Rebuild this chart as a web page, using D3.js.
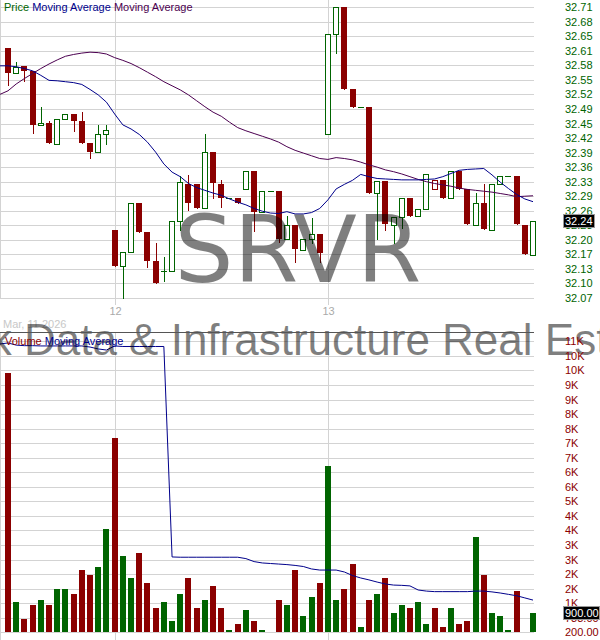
<!DOCTYPE html>
<html>
<head>
<meta charset="utf-8">
<script src="https://cdn.jsdelivr.net/npm/d3@7"></script>
<style>
  body { margin: 0; background: #fff; }
  svg { display: block; }
  text { font-family: "Liberation Sans", Arial, sans-serif; }
</style>
</head>
<body>
<svg id="chart" width="600" height="640"></svg>
<script>
// SRVR, 15-minute bars: Mar 11 (afternoon), Mar 12, Mar 13
const opens = [32.620,32.565,32.581,32.570,32.451,32.455,32.410,32.465,32.474,32.460,32.412,32.391,32.430,32.220,32.140,32.172,32.278,32.215,32.151,32.129,32.129,32.239,32.320,32.320,32.267,32.391,32.320,32.289,32.289,32.309,32.350,32.259,32.305,32.305,32.199,32.230,32.176,32.199,32.210,32.431,32.651,32.711,32.530,32.491,32.491,32.300,32.328,32.231,32.249,32.289,32.250,32.265,32.309,32.330,32.289,32.350,32.309,32.231,32.278,32.220,32.320,32.339,32.339,32.231,32.165];
const highs = [32.620,32.589,32.581,32.570,32.490,32.460,32.465,32.474,32.474,32.479,32.412,32.451,32.451,32.220,32.172,32.278,32.278,32.215,32.192,32.160,32.239,32.338,32.341,32.320,32.431,32.391,32.330,32.289,32.289,32.350,32.350,32.305,32.305,32.305,32.250,32.230,32.199,32.245,32.210,32.651,32.711,32.711,32.530,32.491,32.491,32.328,32.328,32.249,32.289,32.289,32.265,32.344,32.330,32.330,32.350,32.350,32.309,32.300,32.320,32.320,32.338,32.339,32.339,32.231,32.240];
const lows = [32.539,32.565,32.548,32.434,32.451,32.412,32.410,32.465,32.438,32.412,32.379,32.391,32.410,32.141,32.069,32.172,32.215,32.139,32.102,32.108,32.129,32.220,32.264,32.269,32.267,32.289,32.271,32.289,32.280,32.309,32.218,32.259,32.305,32.194,32.199,32.149,32.176,32.190,32.149,32.431,32.610,32.530,32.491,32.491,32.302,32.199,32.220,32.190,32.223,32.251,32.250,32.265,32.309,32.291,32.289,32.309,32.232,32.231,32.221,32.220,32.320,32.339,32.232,32.166,32.165];
const closes = [32.566,32.579,32.570,32.451,32.455,32.412,32.465,32.474,32.460,32.412,32.392,32.431,32.439,32.141,32.172,32.278,32.215,32.151,32.102,32.129,32.239,32.325,32.280,32.269,32.391,32.322,32.289,32.289,32.280,32.350,32.260,32.305,32.305,32.200,32.230,32.177,32.199,32.210,32.170,32.651,32.711,32.530,32.491,32.491,32.302,32.328,32.233,32.249,32.289,32.251,32.265,32.344,32.330,32.291,32.350,32.309,32.232,32.278,32.221,32.320,32.338,32.339,32.232,32.166,32.240];
const priorClose = 32.600;
const volumes = [9700,1300,700,1200,1400,1200,1800,1800,1600,2500,2300,2600,4000,7300,3000,2200,3100,2000,1100,1300,600,1600,2200,1100,1400,1900,1100,300,500,1000,600,300,200,1400,1200,2500,800,1500,2000,6300,1400,1800,2700,400,1400,1600,2200,900,1200,1100,1300,500,1100,400,1100,500,600,3700,2300,900,800,300,1700,200,900];

// moving averages start one bar before the first visible bar
const maShort = [32.581,32.581,32.579,32.575,32.570,32.560,32.549,32.548,32.546,32.544,32.540,32.529,32.517,32.501,32.475,32.451,32.442,32.430,32.413,32.391,32.365,32.347,32.337,32.322,32.313,32.307,32.301,32.296,32.288,32.281,32.275,32.267,32.261,32.257,32.256,32.260,32.255,32.255,32.258,32.267,32.286,32.310,32.320,32.329,32.342,32.337,32.333,32.332,32.331,32.330,32.330,32.330,32.331,32.332,32.337,32.344,32.351,32.353,32.354,32.355,32.341,32.325,32.311,32.298,32.288,32.282];
const maLong = [32.518,32.526,32.541,32.553,32.564,32.575,32.585,32.594,32.602,32.606,32.609,32.611,32.610,32.607,32.599,32.593,32.586,32.577,32.567,32.557,32.546,32.537,32.528,32.517,32.504,32.491,32.479,32.470,32.457,32.445,32.438,32.432,32.426,32.420,32.413,32.403,32.395,32.389,32.383,32.377,32.375,32.379,32.377,32.374,32.369,32.363,32.358,32.352,32.348,32.343,32.337,32.331,32.326,32.322,32.319,32.316,32.312,32.309,32.307,32.305,32.303,32.300,32.297,32.293,32.294,32.295];
const maVolume = [10760,10800,10720,10700,10700,10690,10690,10690,10690,10690,10690,10650,10580,10540,10690,10670,10670,10670,10670,10670,10670,2960,2950,2950,2950,2950,2950,2950,2950,2950,2900,2790,2740,2720,2700,2680,2650,2610,2520,2480,2480,2480,2410,2280,2190,2120,2040,1970,1930,1920,1900,1750,1710,1690,1690,1690,1690,1690,1710,1710,1680,1640,1590,1540,1460,1380];

const priceTicks = [32.070,32.102,32.134,32.166,32.198,32.230,32.262,32.294,32.326,32.358,32.390,32.422,32.454,32.486,32.518,32.550,32.582,32.614,32.646,32.678,32.710];
const volumeTicks = [200,733,1266,1799,2332,2865,3398,3931,4464,4997,5530,6063,6596,7129,7662,8195,8728,9261,9794,10327,10860];
const dayBreaks = [{ slot: 13, label: "12" }, { slot: 39, label: "13" }];
const firstDate = "Mar, 11 2026";
const symbol = "SRVR";
const fundName = "Pacer Benchmark Data & Infrastructure Real Estate SCTR ETF";

const UP = "#006400", DOWN = "#8b0000", GRID = "#d3d3d3";
const plotW = 534;

const svg = d3.select("#chart");
const x = d3.scaleLinear().domain([0, closes.length - 1]).range([8, 533]);
const cx = i => Math.round(x(i));
const yP = d3.scaleLinear().domain([32.07, 32.71]).range([298, 7.2]);
const yV = d3.scaleLinear().domain([200, 10860]).range([632.3, 341.3]);

// ---- grids ----
const gGrid = svg.append("g").attr("shape-rendering", "crispEdges");
gGrid.append("g").call(d3.axisRight(yP).tickValues(priceTicks).tickSize(plotW).tickFormat(""))
  .call(g => g.select(".domain").remove())
  .call(g => g.selectAll("line").attr("stroke", GRID));
gGrid.append("g").call(d3.axisRight(yV).tickValues(volumeTicks).tickSize(plotW).tickFormat(""))
  .call(g => g.select(".domain").remove())
  .call(g => g.selectAll("line").attr("stroke", GRID));
// left edges
gGrid.append("line").attr("x1", 0.5).attr("x2", 0.5).attr("y1", 0).attr("y2", 299).attr("stroke", GRID);
gGrid.append("line").attr("x1", 0.5).attr("x2", 0.5).attr("y1", 333).attr("y2", 640).attr("stroke", GRID);
// day separators
dayBreaks.forEach(d => {
  const xx = cx(d.slot) + 0.5;
  gGrid.append("line").attr("x1", xx).attr("x2", xx).attr("y1", 0).attr("y2", 305).attr("stroke", GRID);
  gGrid.append("line").attr("x1", xx).attr("x2", xx).attr("y1", 333).attr("y2", 640).attr("stroke", GRID);
  svg.append("text").attr("x", xx).attr("y", 315).attr("text-anchor", "middle")
    .attr("font-size", 11).attr("fill", "#aaa").text(d.label);
});
svg.append("text").attr("x", 3).attr("y", 327.5).attr("font-size", 11).attr("fill", "#c8c8c8").text(firstDate);

// ---- candles ----
const gC = svg.append("g").attr("shape-rendering", "crispEdges");
closes.forEach((c, i) => {
  const o = opens[i], h = highs[i], l = lows[i];
  const prev = i ? closes[i - 1] : priorClose;
  const col = c >= prev ? UP : DOWN;
  const xc = cx(i);
  gC.append("line").attr("x1", xc + 0.5).attr("x2", xc + 0.5)
    .attr("y1", Math.round(yP(h))).attr("y2", Math.round(yP(l)) + 1).attr("stroke", col);
  const top = Math.round(yP(Math.max(o, c))), bot = Math.round(yP(Math.min(o, c)));
  if (c > o) {
    gC.append("rect").attr("x", xc - 2.5).attr("y", top + 0.5).attr("width", 5)
      .attr("height", Math.max(bot - top, 1)).attr("fill", "#fff").attr("stroke", col);
  } else {
    gC.append("rect").attr("x", xc - 3).attr("y", top).attr("width", 6)
      .attr("height", Math.max(bot - top, 1)).attr("fill", col);
  }
});

// ---- moving averages ----
const lineP = d3.line().x((d, k) => x(k - 1)).y(d => yP(d));
svg.append("path").attr("d", lineP(maLong)).attr("fill", "none").attr("stroke", "#4b0050").attr("stroke-width", 1);
svg.append("path").attr("d", lineP(maShort)).attr("fill", "none").attr("stroke", "#00008b").attr("stroke-width", 1);

// ---- volume ----
const gV = svg.append("g").attr("shape-rendering", "crispEdges");
volumes.forEach((v, i) => {
  const prev = i ? closes[i - 1] : priorClose;
  const col = closes[i] >= prev ? UP : DOWN;
  const top = Math.round(yV(v)), base = Math.round(yV(200));
  if (base - top > 0) {
    gV.append("rect").attr("x", cx(i) - 3).attr("y", top).attr("width", 6)
      .attr("height", base - top).attr("fill", col);
  }
});
const lineV = d3.line().x((d, k) => x(k - 1)).y(d => yV(d));
svg.append("path").attr("d", lineV(maVolume)).attr("fill", "none").attr("stroke", "#00008b").attr("stroke-width", 1);

// ---- watermarks ----
svg.append("text").attr("x", 298).attr("y", 282).attr("text-anchor", "middle")
  .style("font-family", "'DejaVu Sans', sans-serif").attr("font-size", 93)
  .attr("fill", "#000").attr("fill-opacity", 0.5).text(symbol);
svg.append("text").attr("x", -338).attr("y", 355).attr("text-anchor", "start")
  .style("font-family", "'Liberation Sans', Arial, sans-serif").attr("font-size", 44)
  .attr("fill", "#000").attr("fill-opacity", 0.5).text(fundName);

// panel divider
svg.append("line").attr("x1", 0).attr("x2", plotW).attr("y1", 332.5).attr("y2", 332.5)
  .attr("stroke", "#555").attr("shape-rendering", "crispEdges");

// ---- legends ----
const lg = svg.append("text").attr("x", 4).attr("y", 10.5).attr("font-size", 11);
lg.append("tspan").attr("fill", "#006400").text("Price ");
lg.append("tspan").attr("fill", "#00008b").text("Moving Average ");
lg.append("tspan").attr("fill", "#4b0050").text("Moving Average");
const lv = svg.append("text").attr("x", 5).attr("y", 344.5).attr("font-size", 11);
lv.append("tspan").attr("fill", "#8b0000").text("Volume ");
lv.append("tspan").attr("fill", "#00008b").text("Moving Average");

// ---- right axes ----
const fmtVol = v => v < 1000 ? v.toFixed(2) : Math.round(v / 1000) + "K";
svg.append("g").attr("transform", "translate(565,0)")
  .call(d3.axisRight(yP).tickValues(priceTicks).tickSize(0).tickPadding(0).tickFormat(d => d.toFixed(2)))
  .call(g => g.select(".domain").remove())
  .call(g => g.selectAll("text").attr("fill", "#006400").attr("font-size", 11)
    .style("font-family", "'Liberation Sans', Arial, sans-serif"));
svg.append("g").attr("transform", "translate(565,0)")
  .call(d3.axisRight(yV).tickValues(volumeTicks).tickSize(0).tickPadding(0).tickFormat(fmtVol))
  .call(g => g.select(".domain").remove())
  .call(g => g.selectAll("text").attr("fill", "#8b0000").attr("font-size", 11)
    .style("font-family", "'Liberation Sans', Arial, sans-serif"));

// last-value badges
function badge(yy, label, w) {
  svg.append("rect").attr("x", 563.5).attr("y", Math.round(yy) - 6.5).attr("width", w).attr("height", 13)
    .attr("fill", "#000").attr("stroke", "#999").attr("shape-rendering", "crispEdges");
  svg.append("text").attr("x", 565).attr("y", yy).attr("dy", "0.35em").attr("font-size", 11)
    .attr("fill", "#fff").text(label);
}
const lastClose = closes[closes.length - 1];
badge(yP(lastClose), lastClose.toFixed(2), 31);
const lastVol = volumes[volumes.length - 1];
badge(yV(lastVol), lastVol.toFixed(2), 36);
</script>
</body>
</html>
